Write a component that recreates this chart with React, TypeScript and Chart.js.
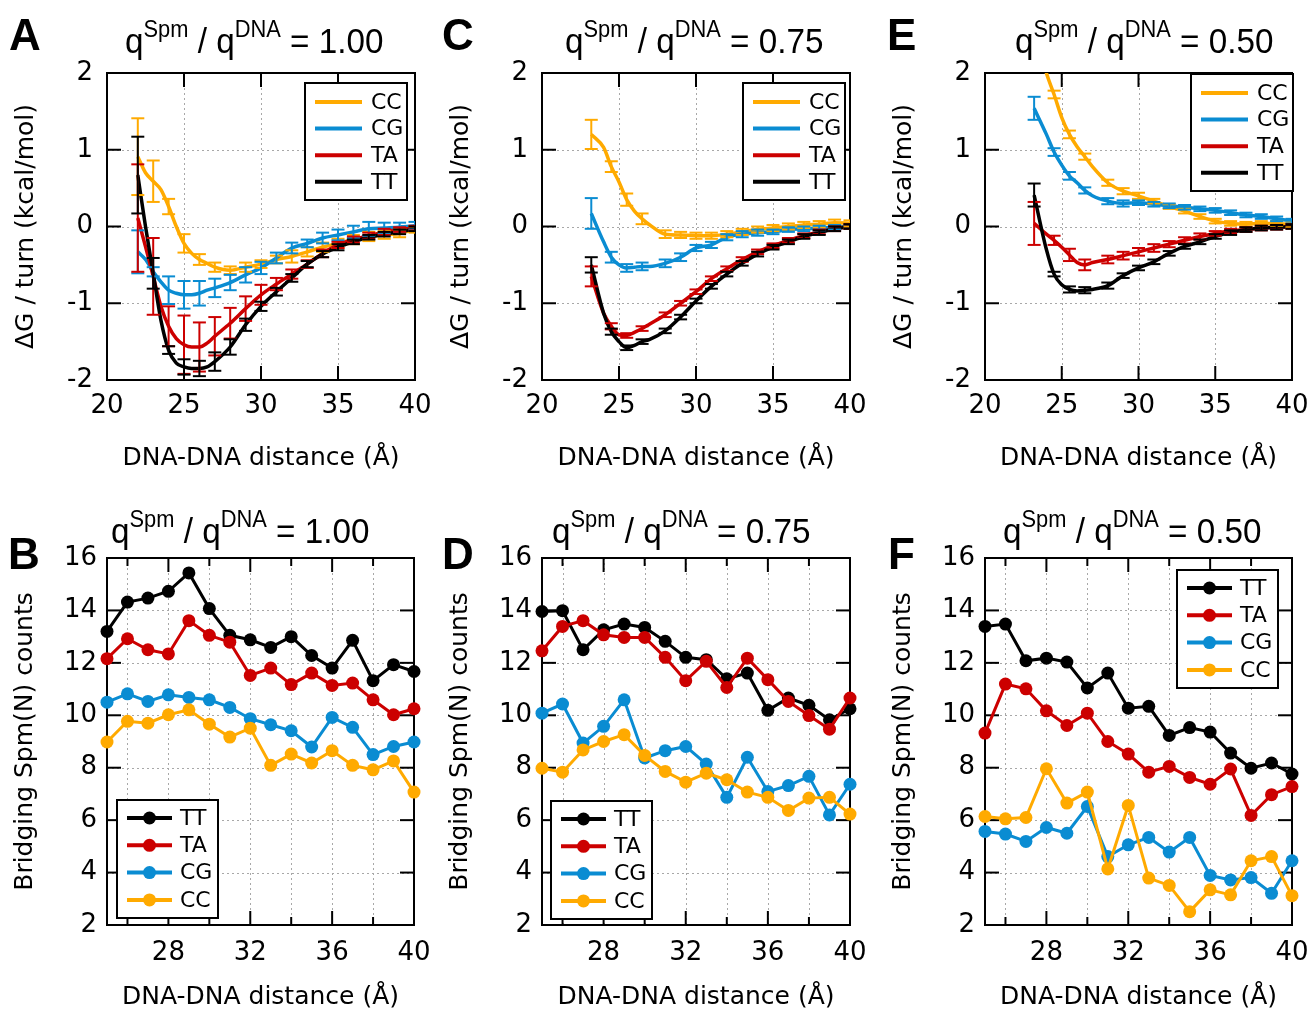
import React, { useEffect, useRef } from "react";
import { Chart, registerables } from "chart.js";
Chart.register(...registerables);

// ---------------- data ----------------
const COLOR_CC = "#FFAA00";
const COLOR_CG = "#0A8CD2";
const COLOR_TA = "#CC0000";
const COLOR_TT = "#000000";

// Top row (free energy) x positions
const X_A = [22, 22.5, 23, 23.5, 24, 24.5, 25, 25.5, 26, 26.5, 27, 28, 29, 30, 31, 32, 33, 34, 35, 36, 37, 38, 39, 40];
const A_CC = [0.91, 0.7, 0.59, 0.48, 0.26, 0.0, -0.22, -0.35, -0.43, -0.48, -0.53, -0.57, -0.53, -0.49, -0.43, -0.39, -0.33, -0.27, -0.22, -0.17, -0.13, -0.11, -0.09, -0.04];
const A_CC_ERR = [0.5, null, 0.27, null, 0.1, null, 0.12, null, 0.07, null, 0.06, 0.05, 0.06, 0.05, 0.05, 0.08, 0.06, 0.06, 0.06, 0.06, 0.06, 0.05, 0.05, 0.04];
const A_CG = [-0.33, -0.43, -0.59, -0.72, -0.83, -0.87, -0.89, -0.89, -0.87, -0.83, -0.8, -0.73, -0.63, -0.54, -0.41, -0.28, -0.22, -0.15, -0.11, -0.07, -0.03, -0.02, -0.01, 0.01];
const A_CG_ERR = [0.28, null, 0.06, null, 0.18, null, 0.18, null, 0.16, null, 0.12, 0.1, 0.1, 0.08, 0.07, 0.07, 0.05, 0.07, 0.07, 0.08, 0.09, 0.07, 0.06, 0.05];
const A_TA = [0.11, -0.26, -0.65, -1.04, -1.3, -1.46, -1.54, -1.57, -1.57, -1.52, -1.43, -1.26, -1.07, -0.89, -0.75, -0.62, -0.49, -0.35, -0.24, -0.17, -0.12, -0.07, -0.04, -0.02];
const A_TA_ERR = [0.7, null, 0.5, null, 0.26, null, 0.38, null, 0.32, null, 0.25, 0.2, 0.16, 0.13, 0.08, 0.06, 0.05, 0.05, 0.04, 0.04, 0.04, 0.04, 0.03, 0.03];
const A_TT = [0.67, 0.0, -0.61, -1.22, -1.61, -1.78, -1.83, -1.85, -1.85, -1.83, -1.76, -1.57, -1.28, -1.04, -0.85, -0.67, -0.49, -0.36, -0.27, -0.2, -0.14, -0.1, -0.07, -0.03];
const A_TT_ERR = [0.5, null, 0.2, null, 0.05, null, 0.1, null, 0.1, null, 0.12, 0.1, 0.08, 0.06, 0.05, 0.05, 0.04, 0.04, 0.04, 0.03, 0.03, 0.03, 0.03, 0.03];

const X_CE = [23.2, 24, 24.5, 25, 25.5, 26, 26.5, 27, 28, 29, 30, 31, 32, 33, 34, 35, 36, 37, 38, 39, 40];
const C_CC = [1.2, 1.03, 0.78, 0.58, 0.35, 0.2, 0.1, 0.02, -0.1, -0.11, -0.12, -0.12, -0.1, -0.07, -0.04, -0.02, 0.0, 0.02, 0.03, 0.05, 0.04];
const C_CC_ERR = [0.19, null, 0.07, null, 0.08, null, 0.07, null, 0.05, 0.04, 0.04, 0.04, 0.04, 0.04, 0.04, 0.04, 0.04, 0.04, 0.04, 0.04, 0.04];
const C_CG = [0.17, -0.2, -0.4, -0.5, -0.54, -0.53, -0.52, -0.52, -0.48, -0.4, -0.28, -0.24, -0.14, -0.1, -0.08, -0.07, -0.04, -0.03, -0.02, -0.01, 0.0];
const C_CG_ERR = [0.2, null, 0.07, null, 0.05, null, 0.05, null, 0.05, 0.05, 0.04, 0.04, 0.04, 0.04, 0.04, 0.03, 0.03, 0.03, 0.03, 0.03, 0.03];
const C_TA = [-0.65, -1.13, -1.3, -1.41, -1.42, -1.38, -1.33, -1.27, -1.15, -1.0, -0.85, -0.68, -0.55, -0.43, -0.33, -0.25, -0.18, -0.12, -0.07, -0.03, 0.0];
const C_TA_ERR = [0.13, null, 0.04, null, 0.03, null, 0.03, null, 0.03, 0.03, 0.03, 0.03, 0.03, 0.03, 0.03, 0.03, 0.03, 0.03, 0.03, 0.03, 0.03];
const C_TT = [-0.5, -1.13, -1.37, -1.5, -1.58, -1.55, -1.5, -1.47, -1.36, -1.18, -0.97, -0.78, -0.62, -0.48, -0.36, -0.27, -0.2, -0.13, -0.08, -0.03, 0.0];
const C_TT_ERR = [0.1, null, 0.04, null, 0.03, null, 0.03, null, 0.03, 0.03, 0.03, 0.03, 0.03, 0.03, 0.03, 0.03, 0.03, 0.03, 0.03, 0.03, 0.03];

const E_CC = [2.6, 2.0, 1.72, 1.42, 1.2, 1.04, 0.91, 0.78, 0.57, 0.46, 0.4, 0.33, 0.26, 0.2, 0.13, 0.07, 0.04, 0.03, 0.04, 0.04, 0.02];
const E_CC_ERR = [0.2, null, 0.05, null, 0.05, null, 0.04, null, 0.04, 0.04, 0.04, 0.03, 0.03, 0.03, 0.03, 0.03, 0.03, 0.03, 0.03, 0.03, 0.03];
const E_CG = [1.54, 1.2, 0.97, 0.8, 0.66, 0.57, 0.47, 0.4, 0.33, 0.3, 0.31, 0.29, 0.27, 0.25, 0.23, 0.21, 0.18, 0.15, 0.13, 0.1, 0.07];
const E_CG_ERR = [0.15, null, 0.05, null, 0.05, null, 0.04, null, 0.04, 0.04, 0.03, 0.03, 0.03, 0.03, 0.03, 0.03, 0.03, 0.03, 0.03, 0.03, 0.03];
const E_TA = [0.04, -0.1, -0.18, -0.27, -0.37, -0.47, -0.5, -0.47, -0.43, -0.38, -0.33, -0.28, -0.23, -0.18, -0.13, -0.09, -0.06, -0.04, -0.02, -0.01, 0.0];
const E_TA_ERR = [0.28, null, 0.06, null, 0.08, null, 0.07, null, 0.05, 0.05, 0.05, 0.05, 0.04, 0.04, 0.04, 0.03, 0.03, 0.03, 0.03, 0.03, 0.03];
const E_TT = [0.41, -0.3, -0.62, -0.76, -0.82, -0.84, -0.83, -0.82, -0.77, -0.64, -0.54, -0.46, -0.35, -0.26, -0.2, -0.13, -0.08, -0.04, -0.02, -0.01, 0.0];
const E_TT_ERR = [0.15, null, 0.03, null, 0.04, null, 0.04, null, 0.04, 0.03, 0.03, 0.03, 0.03, 0.03, 0.03, 0.03, 0.03, 0.03, 0.03, 0.03, 0.03];

// Bottom row (bridging counts)
const X_BOT = [25, 26, 27, 28, 29, 30, 31, 32, 33, 34, 35, 36, 37, 38, 39, 40];
const B_TT = [13.2, 14.32, 14.47, 14.73, 15.43, 14.07, 13.05, 12.88, 12.59, 13.0, 12.28, 11.8, 12.86, 11.32, 11.93, 11.67];
const B_TA = [12.16, 12.92, 12.5, 12.34, 13.61, 13.05, 12.79, 11.52, 11.8, 11.17, 11.61, 11.14, 11.23, 10.59, 10.02, 10.25];
const B_CG = [10.5, 10.82, 10.53, 10.78, 10.68, 10.59, 10.3, 9.87, 9.64, 9.41, 8.79, 9.92, 9.54, 8.5, 8.81, 8.98];
const B_CC = [8.98, 9.77, 9.7, 10.02, 10.21, 9.66, 9.17, 9.51, 8.09, 8.52, 8.18, 8.65, 8.09, 7.92, 8.26, 7.07];

const D_TT = [13.96, 13.99, 12.5, 13.26, 13.48, 13.35, 12.82, 12.21, 12.12, 11.39, 11.61, 10.19, 10.66, 10.38, 9.83, 10.25];
const D_TA = [12.46, 13.39, 13.61, 13.07, 12.97, 12.97, 12.21, 11.32, 12.06, 11.06, 12.18, 11.36, 10.53, 9.99, 9.47, 10.66];
const D_CG = [10.08, 10.43, 8.94, 9.58, 10.59, 8.37, 8.65, 8.81, 8.14, 6.87, 8.4, 7.09, 7.32, 7.67, 6.2, 7.37];
const D_CC = [7.98, 7.83, 8.68, 9.0, 9.26, 8.47, 7.86, 7.45, 7.79, 7.54, 7.07, 6.87, 6.37, 6.84, 6.87, 6.23];

const F_TT = [13.39, 13.48, 12.08, 12.18, 12.03, 11.04, 11.61, 10.27, 10.34, 9.23, 9.53, 9.36, 8.56, 7.98, 8.18, 7.76];
const F_TA = [9.32, 11.19, 11.01, 10.17, 9.61, 10.08, 9.0, 8.52, 7.83, 8.05, 7.63, 7.37, 7.95, 6.18, 6.97, 7.28];
const F_CG = [5.57, 5.47, 5.19, 5.72, 5.5, 6.52, 4.61, 5.06, 5.34, 4.78, 5.34, 3.89, 3.72, 3.81, 3.21, 4.45];
const F_CC = [6.14, 6.05, 6.1, 7.96, 6.65, 7.07, 4.14, 6.56, 3.79, 3.51, 2.51, 3.34, 3.15, 4.45, 4.61, 3.12];

// ticks
const TOP_X_LABELS = [20, 25, 30, 35, 40];
const TOP_Y_LABELS = [-2, -1, 0, 1, 2];
const TOP_X_GRID = [25, 30, 35];
const TOP_Y_GRID = [-1, 0, 1];
const BOT_X_LABELS = [28, 32, 36, 40];
const BOT_X_MINOR = [26, 30, 34, 38];
const BOT_Y_LABELS = [2, 4, 6, 8, 10, 12, 14, 16];
const BOT_X_GRID = [26, 28, 30, 32, 34, 36, 38];
const BOT_Y_GRID = [4, 6, 8, 10, 12, 14];

const RATIOS = ["1.00", "0.75", "0.50"];
const X_TITLE = "DNA-DNA distance (Å)";
const Y_TITLE_TOP = "ΔG / turn (kcal/mol)";
const Y_TITLE_BOT = "Bridging Spm(N) counts";

// ---------------- config ----------------
const FONT = '"DejaVu Sans", "Noto Sans", sans-serif';

type Series = { label: string; color: string; y: number[]; err?: (number | null)[] };
type Legend = { left: number; top: number; w: number; h: number; row0: number; rowH: number; l0: number; l1: number; tx: number };
type PanelCfg = {
  left: number; top: number; width: number; height: number;
  padTop: number; padRight: number; yW: number; xH: number;
  xs: number[]; series: Series[]; markers: boolean;
  xMin: number; xMax: number; yMin: number; yMax: number;
  xLabels: number[]; yLabels: number[];
  xGrid: number[]; yGrid: number[]; xMajor: number[]; xMinor: number[]; yMajor: number[];
  xTickPad: number; yTickPad: number; yTitle: string; xTitlePad: number; yTitlePad: number;
  legend: Legend;
};

const topSeries = (cc: number[], cce: (number | null)[], cg: number[], cge: (number | null)[], ta: number[], tae: (number | null)[], tt: number[], tte: (number | null)[]): Series[] => [
  { label: "CC", color: COLOR_CC, y: cc, err: cce },
  { label: "CG", color: COLOR_CG, y: cg, err: cge },
  { label: "TA", color: COLOR_TA, y: ta, err: tae },
  { label: "TT", color: COLOR_TT, y: tt, err: tte },
];
const botSeries = (tt: number[], ta: number[], cg: number[], cc: number[]): Series[] => [
  { label: "TT", color: COLOR_TT, y: tt },
  { label: "TA", color: COLOR_TA, y: ta },
  { label: "CG", color: COLOR_CG, y: cg },
  { label: "CC", color: COLOR_CC, y: cc },
];

const topBase = {
  top: 55, height: 425, padTop: 18, yW: 107, xH: 100, markers: false,
  xMin: 20, xMax: 40, yMin: -2, yMax: 2,
  xLabels: TOP_X_LABELS, yLabels: TOP_Y_LABELS, xGrid: TOP_X_GRID, yGrid: TOP_Y_GRID,
  xMajor: TOP_X_GRID, xMinor: [] as number[], yMajor: TOP_Y_GRID,
  xTickPad: 13, yTickPad: 14, yTitle: Y_TITLE_TOP, xTitlePad: 9.5, yTitlePad: 14,
};
const botBase = {
  top: 540, height: 472, padTop: 18, yW: 107, xH: 87, markers: true,
  xMin: 25, xMax: 40, yMin: 2, yMax: 16,
  xLabels: BOT_X_LABELS, yLabels: BOT_Y_LABELS, xGrid: BOT_X_GRID, yGrid: BOT_Y_GRID,
  xMajor: [28, 32, 36], xMinor: BOT_X_MINOR, yMajor: BOT_Y_GRID,
  xTickPad: 15, yTickPad: 10, yTitle: Y_TITLE_BOT, xTitlePad: 2.5, yTitlePad: 13,
};
const topLegend = (left: number, top: number): Legend => ({ left, top, w: 102, h: 117, row0: 19, rowH: 26.6, l0: 10, l1: 57, tx: 66 });
const botLegend = (left: number, top: number): Legend => ({ left, top, w: 101, h: 118, row0: 18, rowH: 27.3, l0: 10, l1: 55, tx: 63 });

const PANELS: PanelCfg[] = [
  { ...topBase, left: 0, width: 435, padRight: 20, xs: X_A, series: topSeries(A_CC, A_CC_ERR, A_CG, A_CG_ERR, A_TA, A_TA_ERR, A_TT, A_TT_ERR), legend: topLegend(198, 10) },
  { ...topBase, left: 435, width: 435, padRight: 20, xs: X_CE, series: topSeries(C_CC, C_CC_ERR, C_CG, C_CG_ERR, C_TA, C_TA_ERR, C_TT, C_TT_ERR), legend: topLegend(201, 10) },
  { ...topBase, left: 878, width: 432, padRight: 18, xs: X_CE, series: topSeries(E_CC, E_CC_ERR, E_CG, E_CG_ERR, E_TA, E_TA_ERR, E_TT, E_TT_ERR), legend: topLegend(206, 1) },
  { ...botBase, left: 0, width: 435, padRight: 21, xs: X_BOT, series: botSeries(B_TT, B_TA, B_CG, B_CC), legend: botLegend(10, 242) },
  { ...botBase, left: 435, width: 435, padRight: 20, xs: X_BOT, series: botSeries(D_TT, D_TA, D_CG, D_CC), legend: botLegend(9, 243) },
  { ...botBase, left: 878, width: 432, padRight: 18, xs: X_BOT, series: botSeries(F_TT, F_TA, F_CG, F_CC), legend: botLegend(192, 12) },
];

// ---------------- plugin ----------------
function makeDeco(cfg: PanelCfg) {
  const seg = (ctx: CanvasRenderingContext2D, x1: number, y1: number, x2: number, y2: number) => {
    ctx.beginPath(); ctx.moveTo(x1, y1); ctx.lineTo(x2, y2); ctx.stroke();
  };
  return {
    id: "deco",
    beforeDatasetsDraw(chart: any) {
      const { ctx, chartArea: a, scales } = chart;
      const xs = scales.x, ys = scales.y;
      ctx.save();
      ctx.strokeStyle = "#a8a8a8"; ctx.lineWidth = 1; ctx.setLineDash([2, 3]);
      cfg.xGrid.forEach((v) => { const p = Math.round(xs.getPixelForValue(v)) + 0.5; seg(ctx, p, a.top, p, a.bottom); });
      cfg.yGrid.forEach((v) => { const p = Math.round(ys.getPixelForValue(v)) + 0.5; seg(ctx, a.left, p, a.right, p); });
      ctx.setLineDash([]);
      ctx.strokeStyle = "#000"; ctx.lineWidth = 2;
      const L = 14, Lm = 8;
      cfg.xMajor.forEach((v) => { const p = xs.getPixelForValue(v); seg(ctx, p, a.bottom, p, a.bottom - L); seg(ctx, p, a.top, p, a.top + L); });
      cfg.xMinor.forEach((v) => { const p = xs.getPixelForValue(v); seg(ctx, p, a.bottom, p, a.bottom - Lm); seg(ctx, p, a.top, p, a.top + Lm); });
      cfg.yMajor.forEach((v) => { const p = ys.getPixelForValue(v); seg(ctx, a.left, p, a.left + L, p); seg(ctx, a.right, p, a.right - L, p); });
      ctx.strokeRect(a.left, a.top, a.right - a.left, a.bottom - a.top);
      ctx.restore();
    },
    afterDatasetsDraw(chart: any) {
      const { ctx, chartArea: a, scales } = chart;
      const xs = scales.x, ys = scales.y;
      ctx.save();
      ctx.beginPath(); ctx.rect(a.left, a.top, a.right - a.left, a.bottom - a.top); ctx.clip();
      ctx.lineWidth = 2;
      cfg.series.forEach((s) => {
        if (!s.err) return;
        ctx.strokeStyle = s.color;
        s.err.forEach((e, i) => {
          if (e == null) return;
          const px = xs.getPixelForValue(cfg.xs[i]);
          const p1 = ys.getPixelForValue(s.y[i] + e), p2 = ys.getPixelForValue(s.y[i] - e);
          seg(ctx, px, p1, px, p2);
          seg(ctx, px - 6.5, p1, px + 6.5, p1);
          seg(ctx, px - 6.5, p2, px + 6.5, p2);
        });
      });
      ctx.restore();
      // legend
      const lg = cfg.legend;
      const bx = a.left + lg.left, by = a.top + lg.top;
      ctx.save();
      ctx.fillStyle = "#fff"; ctx.fillRect(bx, by, lg.w, lg.h);
      ctx.strokeStyle = "#000"; ctx.lineWidth = 2; ctx.strokeRect(bx, by, lg.w, lg.h);
      cfg.series.forEach((s, i) => {
        const yy = by + lg.row0 + i * lg.rowH;
        ctx.strokeStyle = s.color; ctx.lineWidth = 4;
        seg(ctx, bx + lg.l0, yy, bx + lg.l1, yy);
        if (cfg.markers) {
          ctx.fillStyle = s.color; ctx.beginPath();
          ctx.arc(bx + (lg.l0 + lg.l1) / 2, yy, 6.5, 0, Math.PI * 2); ctx.fill();
        }
        ctx.fillStyle = "#000"; ctx.font = `22px ${FONT}`; ctx.textBaseline = "middle"; ctx.textAlign = "left";
        ctx.fillText(s.label, bx + lg.tx, yy + 1);
      });
      ctx.restore();
    },
  };
}

const zeroPad = (s: any) => { s.paddingLeft = 0; s.paddingRight = 0; s.paddingTop = 0; s.paddingBottom = 0; };

function Panel({ cfg }: { cfg: PanelCfg }) {
  const ref = useRef<HTMLCanvasElement>(null);
  useEffect(() => {
    const n = cfg.series.length;
    const chart = new Chart(ref.current as HTMLCanvasElement, {
      type: "line",
      data: {
        datasets: cfg.series.map((s, i) => ({
          label: s.label,
          data: cfg.xs.map((x, j) => ({ x, y: s.y[j] })),
          borderColor: s.color,
          backgroundColor: s.color,
          borderWidth: cfg.markers ? 3 : 3.5,
          pointRadius: cfg.markers ? 6.5 : 0,
          pointHoverRadius: cfg.markers ? 6.5 : 0,
          pointBackgroundColor: s.color,
          pointBorderColor: s.color,
          pointBorderWidth: 0,
          cubicInterpolationMode: cfg.markers ? "default" : "monotone",
          tension: 0,
          fill: false,
          clip: cfg.markers ? false : 0,
          order: n - i,
        })) as any,
      },
      options: {
        responsive: false,
        animation: false,
        devicePixelRatio: 1,
        events: [],
        layout: { autoPadding: false, padding: { top: cfg.padTop, right: cfg.padRight, left: 0, bottom: 0 } },
        plugins: { legend: { display: false }, tooltip: { enabled: false }, title: { display: false } },
        scales: {
          x: {
            type: "linear", position: "bottom", min: cfg.xMin, max: cfg.xMax,
            grid: { display: false, drawTicks: false }, border: { display: false },
            afterBuildTicks: (s: any) => { s.ticks = cfg.xLabels.map((v) => ({ value: v })); },
            afterFit: (s: any) => { s.height = cfg.xH; zeroPad(s); },
            ticks: { padding: cfg.xTickPad, color: "#000", font: { family: FONT, size: 26, lineHeight: 1 }, maxRotation: 0, autoSkip: false, callback: (v: any) => String(v) },
            title: { display: true, text: X_TITLE, color: "#000", font: { family: FONT, size: 25, lineHeight: 1 }, padding: { top: 0, bottom: cfg.xTitlePad } },
          },
          y: {
            type: "linear", position: "left", min: cfg.yMin, max: cfg.yMax,
            grid: { display: false, drawTicks: false }, border: { display: false },
            afterBuildTicks: (s: any) => { s.ticks = cfg.yLabels.map((v) => ({ value: v })); },
            afterFit: (s: any) => { s.width = cfg.yW; zeroPad(s); },
            ticks: { padding: cfg.yTickPad, color: "#000", font: { family: FONT, size: 26, lineHeight: 1 }, autoSkip: false, callback: (v: any) => String(v) },
            title: { display: true, text: cfg.yTitle, color: "#000", font: { family: FONT, size: 25, lineHeight: 1 }, padding: { top: cfg.yTitlePad, bottom: 0 } },
          },
        },
      } as any,
      plugins: [makeDeco(cfg)],
    });
    return () => chart.destroy();
  }, [cfg]);
  return (
    <canvas
      ref={ref}
      width={cfg.width}
      height={cfg.height}
      style={{ position: "absolute", left: cfg.left, top: cfg.top, width: cfg.width, height: cfg.height }}
    />
  );
}

const TITLE_SIZE = 35;
const supStyle: React.CSSProperties = { fontSize: 23, position: "relative", top: -16, lineHeight: 0 };

function Title({ left, baseline, ratio }: { left: number; baseline: number; ratio: string }) {
  return (
    <div
      style={{
        position: "absolute", left, top: baseline - 0.8465 * TITLE_SIZE,
        fontFamily: '"Liberation Sans", Arial, sans-serif', fontSize: TITLE_SIZE, lineHeight: `${TITLE_SIZE}px`,
        whiteSpace: "nowrap", transform: "scaleX(0.95)", transformOrigin: "left top", color: "#000",
      }}
    >
      q<span style={supStyle}>Spm</span> / q<span style={supStyle}>DNA</span> = {ratio}
    </div>
  );
}

function Letter({ left, baseline, text }: { left: number; baseline: number; text: string }) {
  const S = 44;
  return (
    <div
      style={{
        position: "absolute", left, top: baseline - 0.8465 * S,
        fontFamily: '"Liberation Sans", Arial, sans-serif', fontWeight: "bold", fontSize: S, lineHeight: `${S}px`, color: "#000",
      }}
    >
      {text}
    </div>
  );
}

export default function App() {
  return (
    <div style={{ position: "absolute", left: 0, top: 0, width: 1310, height: 1012, background: "#fff", overflow: "hidden" }}>
      {PANELS.map((p, i) => <Panel key={i} cfg={p} />)}
      <Letter left={9} baseline={50} text="A" />
      <Letter left={442} baseline={50} text="C" />
      <Letter left={887} baseline={50} text="E" />
      <Letter left={8} baseline={569} text="B" />
      <Letter left={442} baseline={569} text="D" />
      <Letter left={888} baseline={569} text="F" />
      <Title left={125} baseline={53} ratio={RATIOS[0]} />
      <Title left={565} baseline={53} ratio={RATIOS[1]} />
      <Title left={1015} baseline={53} ratio={RATIOS[2]} />
      <Title left={111} baseline={543} ratio={RATIOS[0]} />
      <Title left={552} baseline={543} ratio={RATIOS[1]} />
      <Title left={1003} baseline={543} ratio={RATIOS[2]} />
    </div>
  );
}
